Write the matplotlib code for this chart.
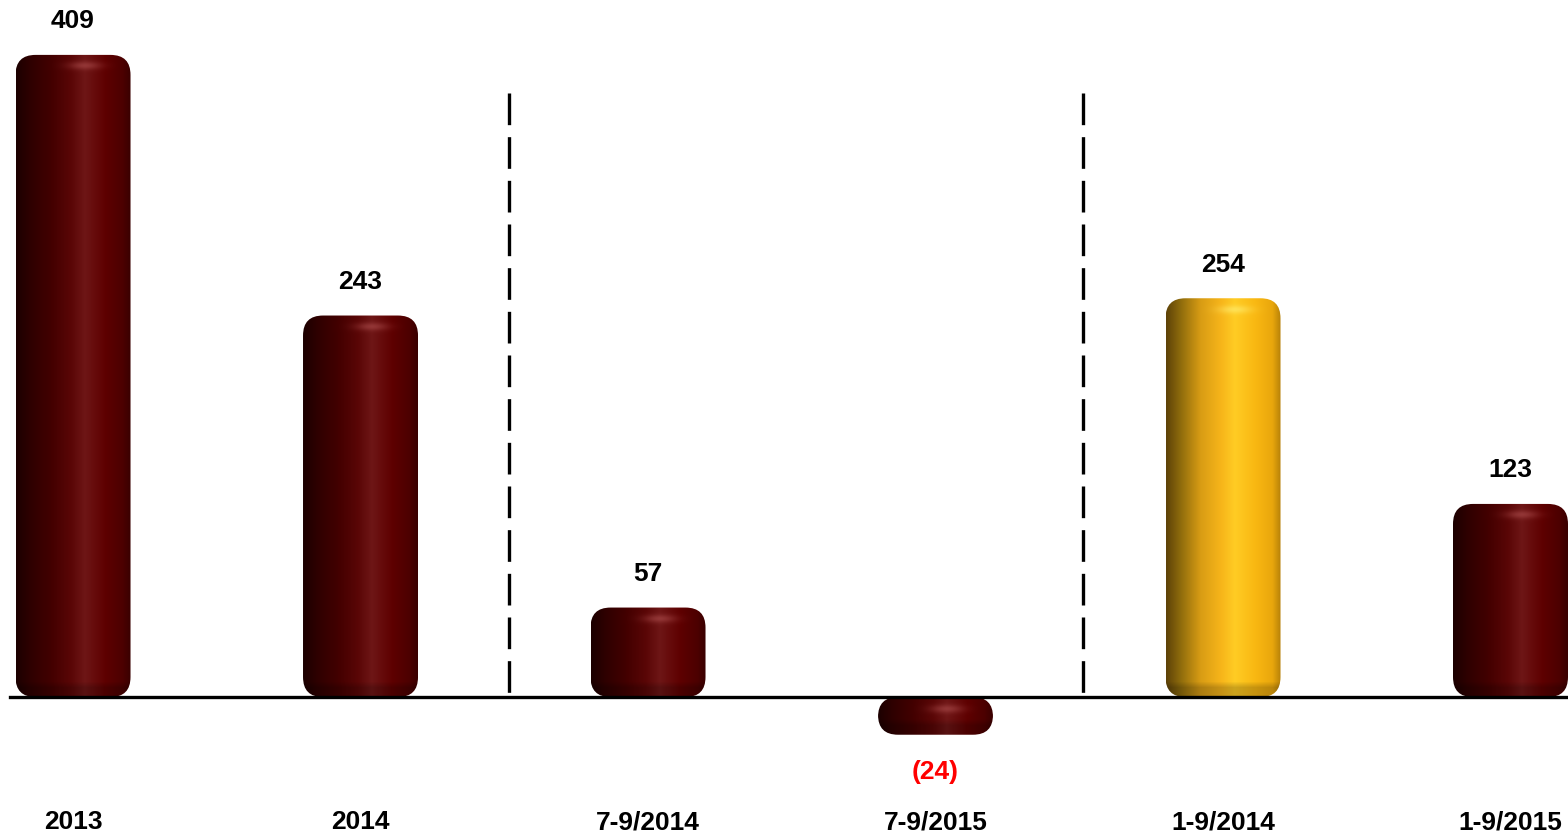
import matplotlib.pyplot as plt
import numpy as np
from matplotlib.patches import FancyBboxPatch
from matplotlib.colors import to_rgb

categories = ["2013", "2014", "7-9/2014", "7-9/2015", "1-9/2014", "1-9/2015"]
values = [409, 243, 57, -24, 254, 123]
bar_kind = ["red", "red", "red", "red", "gold", "red"]
dividers = [1.517, 3.513]

# horizontal shading stops for the cylinder look
stops = [0.0, 0.12, 0.3, 0.48, 0.6, 0.78, 0.93, 1.0]
shades = {
    "red": ["#1c0000", "#2e0000", "#420000", "#5a0606", "#6e1616", "#5e0000", "#4c0000", "#3a0000"],
    "gold": ["#5e4208", "#8c6a0c", "#d89c14", "#f7b51a", "#ffcc24", "#f9b812", "#e8a60c", "#b88208"],
}
spot = {"red": "#b05050", "gold": "#fff27a"}

plt.rcParams['font.family'] = ['Liberation Sans', 'DejaVu Sans']

fig = plt.figure(figsize=(15.68, 8.37), dpi=100)
ax = fig.add_axes([0, 0, 1, 1])
xlim = (-0.254, 5.2)
ylim = (-88.5, 444.6)
ax.set_xlim(*xlim)
ax.set_ylim(*ylim)
ax.axis('off')

px_x = 1568 / (xlim[1] - xlim[0])
px_y = 837 / (ylim[1] - ylim[0])

x = np.arange(len(categories))
bars = ax.bar(x, values, width=0.4, color='none', edgecolor='none')

for b, v, kind in zip(bars, values, bar_kind):
    x0, w = b.get_x(), b.get_width()
    y0 = min(0, v)
    h = abs(v)
    hpx = max(int(h * px_y), 4)
    cols = 160
    cs = np.array([to_rgb(c) for c in shades[kind]])
    u = np.linspace(0, 1, cols)
    prof = np.stack([np.interp(u, stops, cs[:, k]) for k in range(3)], axis=1)
    img = np.repeat(prof[None, :, :], hpx, axis=0)
    # darker bottom band, fading in
    rows = np.arange(hpx)
    dark = 1 - 0.2 * np.clip((rows - (hpx - 16)) / 6.0, 0, 1)
    img = img * dark[:, None, None]
    # highlight spot near top
    gx = np.exp(-((u - 0.6) / 0.14) ** 2)
    gy = np.exp(-((rows - 11) / 4.0) ** 2)
    a = 0.55 * gy[:, None] * gx[None, :]
    sc = np.array(to_rgb(spot[kind]))
    img = img * (1 - a[:, :, None]) + sc * a[:, :, None]
    im = ax.imshow(np.clip(img, 0, 1), extent=(x0, x0 + w, y0, y0 + h), origin='upper',
                   aspect='auto', interpolation='bilinear', zorder=2)
    r = 20 / px_x
    patch = FancyBboxPatch((x0, y0), w, h, boxstyle=f"round,pad=0,rounding_size={r}",
                           mutation_aspect=px_x / px_y, transform=ax.transData,
                           facecolor='none', edgecolor='none')
    ax.add_patch(patch)
    im.set_clip_path(patch)

    if v >= 0:
        ax.text(b.get_x() + w / 2, v + 22, str(v), ha='center', va='center',
                fontsize=19, fontweight='bold', color='black')
    else:
        ax.text(b.get_x() + w / 2, v - 23, f"({abs(v)})", ha='center', va='center',
                fontsize=19, fontweight='bold', color='#ff0000')

for xi, lab in zip(x, categories):
    ax.text(xi, -79, lab, ha='center', va='center', fontsize=19, fontweight='bold')

for d in dividers:
    ax.plot([d, d], [385, 0], color='black', lw=2.4, linestyle=(0, (9.5, 3.6)),
            solid_capstyle='butt', dash_capstyle='butt', zorder=3)

ax.plot([-0.219, xlim[1]], [0, 0], color='black', lw=2.4, zorder=4)

ax.set_xlim(*xlim)
ax.set_ylim(*ylim)
fig.savefig('out.png', dpi=100)
